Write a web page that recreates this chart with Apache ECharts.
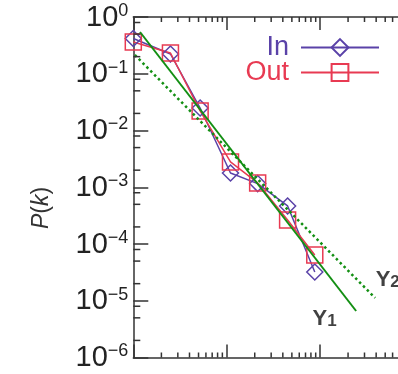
<!DOCTYPE html>
<html><head><meta charset="utf-8">
<script src="https://cdn.jsdelivr.net/npm/echarts@6/dist/echarts.min.js"></script>
<style>html,body{margin:0;padding:0;background:#fff}#c{width:398px;height:374px}</style>
</head><body><div id="c"></div>
<script>
// ---- data ----
const kValues = [1, 2.5, 5.2, 11, 21.5, 45, 88];
const inValues = [0.418, 0.223, 0.0249, 0.00178, 0.00116, 4.68e-4, 3.21e-5];
const outValues = [0.363, 0.232, 0.0221, 0.00279, 0.00119, 2.65e-4, 6.4e-5];
const y1K = [1.18, 244];
const y1P = [0.544, 6.6e-6];
const y2K = [1.04, 390];
const y2P = [0.214, 1.12e-5];
const xDecades = [1, 10, 100];
const xMinorMultipliers = [2, 3, 4, 5, 6, 7, 8, 9];
const yDecades = [1e-6, 1e-5, 1e-4, 1e-3, 1e-2, 1e-1];
const yMinorMultipliers = [2, 5, 8];

const IN_COLOR = '#5a42a8';
const OUT_COLOR = '#e83a52';
const GREEN = '#138f13';
const AXIS = '#333';
const FONT = 'Liberation Sans';

const xMinor = [];
xDecades.forEach(d => xMinorMultipliers.forEach(m => xMinor.push(d * m)));
const yMinor = [];
yDecades.forEach(d => yMinorMultipliers.forEach(m => yMinor.push(d * m)));

function minorTicks(values, dim, len) {
  return {
    type: 'custom', silent: true, z: 5, clip: false,
    data: values.map(v => dim === 'x' ? [v, 1e-3] : [10, v]),
    renderItem: (params, api) => {
      const cs = params.coordSys;
      const p = api.coord([api.value(0), api.value(1)]);
      const st = { stroke: AXIS, lineWidth: 1.5 };
      if (dim === 'x') {
        const x = p[0], yb = cs.y + cs.height, yt = cs.y;
        return { type: 'group', children: [
          { type: 'line', shape: { x1: x, y1: yb, x2: x, y2: yb - len }, style: st },
          { type: 'line', shape: { x1: x, y1: yt, x2: x, y2: yt + len }, style: st }
        ]};
      }
      const y = p[1], xl = cs.x, xr = cs.x + cs.width;
      return { type: 'group', children: [
        { type: 'line', shape: { x1: xl, y1: y, x2: xl + len, y2: y }, style: st },
        { type: 'line', shape: { x1: xr, y1: y, x2: xr - len, y2: y }, style: st }
      ]};
    }
  };
}

const axisLine = { lineStyle: { color: AXIS, width: 1.5 } };
function xAx(pos) {
  return { type: 'log', logBase: 10, min: 1, max: 1000, splitNumber: 3, position: pos,
    axisLine: axisLine, axisTick: { inside: true, length: 13, lineStyle: { color: AXIS, width: 1.5 } },
    axisLabel: { show: false }, splitLine: { show: false } };
}
function yAx(pos, showLabel) {
  return { type: 'log', logBase: 10, min: 1e-6, max: 1, splitNumber: 6, position: pos,
    axisLine: axisLine, axisTick: { inside: true, length: 15, lineStyle: { color: AXIS, width: 1.5 } },
    splitLine: { show: false },
    axisLabel: { show: showLabel, margin: 5,
      formatter: v => { const e = Math.round(Math.log10(v)); return '{b|10}{e|' + (e < 0 ? '\u2212' + (-e) : e) + '}'; },
      rich: {
        b: { fontSize: 29, fontFamily: FONT, color: '#222', lineHeight: 30, verticalAlign: 'bottom' },
        e: { fontSize: 18, fontFamily: FONT, color: '#222', lineHeight: 18, verticalAlign: 'top' }
      } } };
}

const chart = echarts.init(document.getElementById('c'));
chart.setOption({
  animation: false,
  backgroundColor: '#fff',
  grid: { left: 133.3, top: 17, bottom: 16.5, width: 280, containLabel: false, outerBoundsMode: 'none' },
  xAxis: [xAx('bottom'), xAx('top')],
  yAxis: [yAx('left', true), yAx('right', false)],
  legend: {
    orient: 'vertical', right: 18, top: 34, align: 'right', padding: 0, itemGap: -2,
    itemWidth: 78, itemHeight: 21,
    textStyle: { fontSize: 27, fontFamily: FONT, lineHeight: 22, padding: [0, 7, 0, 0] },
    data: [{ name: 'In', textStyle: { color: IN_COLOR } }, { name: 'Out', textStyle: { color: OUT_COLOR } }]
  },
  graphic: [{
    type: 'text', x: 42, y: 208, rotation: Math.PI / 2,
    style: { text: '{i|P}({i|k})', align: 'center', verticalAlign: 'middle',
      font: '23px ' + FONT, fill: '#333',
      rich: { i: { fontStyle: 'italic', fontSize: 23, fontFamily: FONT, color: '#333' } } }
  }],
  series: [
    minorTicks(xMinor, 'x', 5),
    minorTicks(yMinor, 'y', 7),
    { name: 'Y1', type: 'line', data: y1K.map((k, i) => [k, y1P[i]]), symbol: 'none',
      lineStyle: { color: GREEN, width: 2 }, z: 4, silent: true },
    { name: 'Y2', type: 'line', data: y2K.map((k, i) => [k, y2P[i]]), symbol: 'none',
      lineStyle: { color: GREEN, width: 2.5, type: [2.5, 3] }, z: 4, silent: true },
    { name: 'In', type: 'line', data: kValues.map((k, i) => [k, inValues[i]]), symbol: 'diamond', symbolSize: 16,
      color: IN_COLOR, lineStyle: { color: IN_COLOR, width: 1.5 },
      itemStyle: { color: 'rgba(255,255,255,0)', borderColor: IN_COLOR, borderWidth: 1.5 }, z: 3 },
    { name: 'Out', type: 'line', data: kValues.map((k, i) => [k, outValues[i]]), symbol: 'rect', symbolSize: 16,
      color: OUT_COLOR, lineStyle: { color: OUT_COLOR, width: 1.5 },
      itemStyle: { color: 'rgba(255,255,255,0)', borderColor: OUT_COLOR, borderWidth: 1.5 }, z: 3 },
    { type: 'scatter', silent: true, symbolSize: 1, itemStyle: { color: 'rgba(0,0,0,0)' },
      data: [
        { value: [y1K[1], y1P[1]], label: { show: true, position: [-43, -3], formatter: '{y|Y}{s|1}' } },
        { value: [y2K[1], y2P[1]], label: { show: true, position: [1, -29], formatter: '{y|Y}{s|2}' } }
      ],
      label: { rich: {
        y: { fontSize: 22, fontWeight: 'bold', fontFamily: FONT, color: '#111', lineHeight: 22 },
        s: { fontSize: 17, fontWeight: 'bold', fontFamily: FONT, color: '#111', lineHeight: 17, verticalAlign: 'bottom' }
      } } }
  ]
});
</script></body></html>
